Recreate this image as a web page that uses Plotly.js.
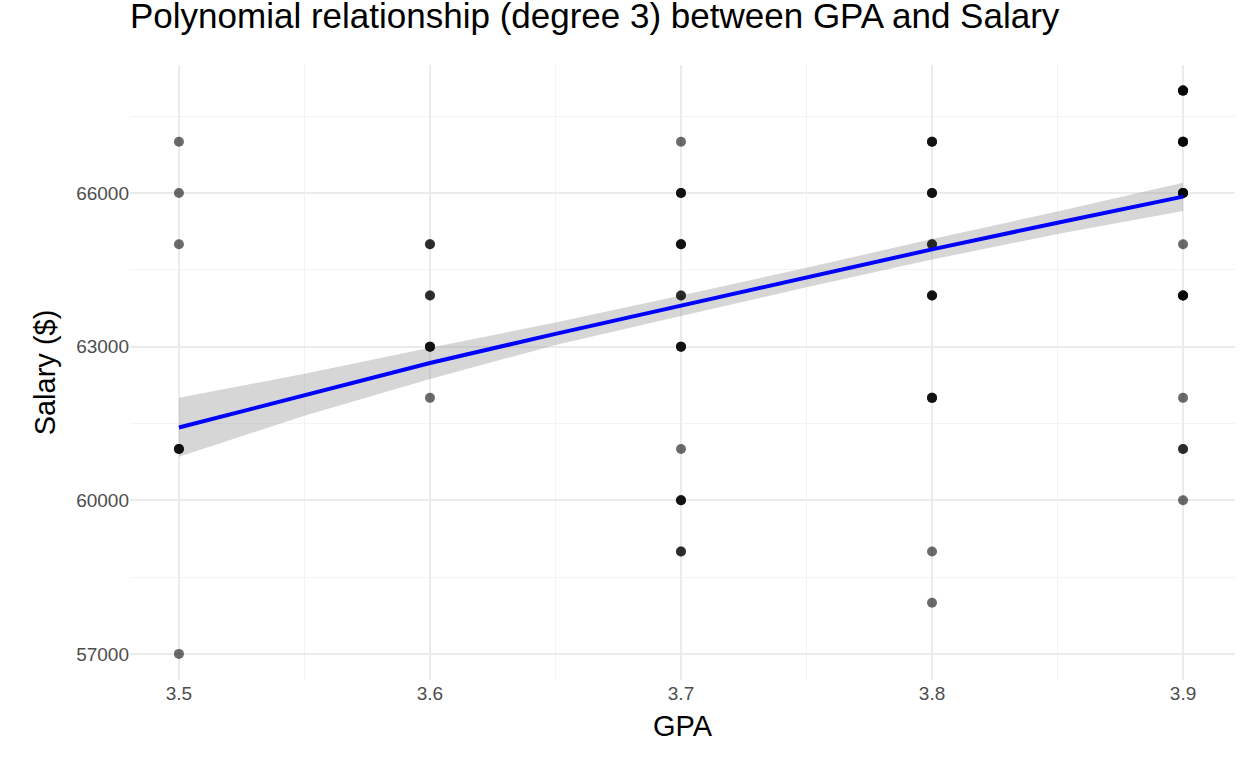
<!DOCTYPE html>
<html>
<head>
<meta charset="utf-8">
<script src="https://cdn.plot.ly/plotly-3.0.1.min.js"></script>
<style>body{margin:0;background:#fff}</style>
</head>
<body>
<div id="chart" style="width:1248px;height:768px"></div>
<script>
// observed points (repeats show overlapping, darker dots)
const gpa = [
  3.5, 3.5, 3.5, 3.5, 3.5, 3.5, 3.5,
  3.6, 3.6, 3.6, 3.6, 3.6, 3.6, 3.6, 3.6,
  3.7, 3.7, 3.7, 3.7, 3.7, 3.7, 3.7, 3.7, 3.7, 3.7, 3.7, 3.7, 3.7, 3.7, 3.7, 3.7, 3.7, 3.7,
  3.8, 3.8, 3.8, 3.8, 3.8, 3.8, 3.8, 3.8, 3.8, 3.8, 3.8, 3.8, 3.8, 3.8, 3.8, 3.8,
  3.9, 3.9, 3.9, 3.9, 3.9, 3.9, 3.9, 3.9, 3.9, 3.9, 3.9, 3.9, 3.9, 3.9, 3.9, 3.9, 3.9, 3.9, 3.9, 3.9, 3.9
];
const salary = [
  67000, 66000, 65000, 61000, 61000, 61000, 57000,
  65000, 65000, 64000, 64000, 63000, 63000, 63000, 62000,
  67000, 66000, 66000, 66000, 65000, 65000, 65000, 64000, 64000, 63000, 63000, 63000, 61000, 60000, 60000, 60000, 59000, 59000,
  67000, 67000, 67000, 66000, 66000, 66000, 65000, 65000, 64000, 64000, 64000, 62000, 62000, 62000, 59000, 58000,
  68000, 68000, 68000, 68000, 67000, 67000, 67000, 67000, 66000, 66000, 66000, 66000, 65000, 64000, 64000, 64000, 64000, 62000, 61000, 61000, 60000
];

// fitted curve and confidence band
const fitX = [3.5, 3.55, 3.6, 3.65, 3.7, 3.75, 3.8, 3.85, 3.9];
const fitY = [61420, 62060, 62680, 63250, 63800, 64350, 64900, 65420, 65930];
const fitUpper = [62000, 62470, 62980, 63470, 64000, 64540, 65100, 65640, 66200];
const fitLower = [60850, 61650, 62370, 63030, 63600, 64160, 64700, 65200, 65650];

const traces = [
  {x: fitX, y: fitLower, mode: 'lines', line: {width: 0}, hoverinfo: 'skip', showlegend: false},
  {x: fitX, y: fitUpper, mode: 'lines', line: {width: 0}, fill: 'tonexty',
   fillcolor: 'rgba(153,153,153,0.4)', hoverinfo: 'skip', showlegend: false},
  {x: gpa, y: salary, mode: 'markers', type: 'scatter',
   marker: {color: 'rgba(0,0,0,0.58)', size: 10}, showlegend: false},
  {x: fitX, y: fitY, mode: 'lines', line: {color: '#0000ff', width: 4}, showlegend: false}
];

const axisFont = {family: 'Liberation Sans, Arial', size: 19, color: '#4d4d4d'};

const layout = {
  width: 1248, height: 768,
  margin: {l: 130, r: 13, t: 65, b: 88},
  paper_bgcolor: '#fff', plot_bgcolor: '#fff',
  font: {family: 'Liberation Sans, Arial', color: '#000'},
  title: {text: 'Polynomial relationship (degree 3) between GPA and Salary',
          x: 0, xref: 'paper', xanchor: 'left', y: 0.995, yanchor: 'top',
          font: {size: 35, color: '#000'}},
  xaxis: {
    range: [3.4805, 3.9207], tickvals: [3.5, 3.6, 3.7, 3.8, 3.9],
    ticktext: ['3.5', '3.6', '3.7', '3.8', '3.9'],
    showgrid: true, gridcolor: '#ebebeb', gridwidth: 1.5, zeroline: false,
    minor: {tickvals: [3.55, 3.65, 3.75, 3.85], showgrid: true, gridcolor: '#f3f3f3', gridwidth: 1},
    tickfont: axisFont, ticks: '', ticklen: 4,
    title: {text: 'GPA', font: {size: 29, color: '#000'}, standoff: 12}
  },
  yaxis: {
    range: [56490, 68500], tickvals: [57000, 60000, 63000, 66000],
    ticktext: ['57000', '60000', '63000', '66000'],
    showgrid: true, gridcolor: '#ebebeb', gridwidth: 1.5, zeroline: false,
    minor: {tickvals: [58500, 61500, 64500, 67500], showgrid: true, gridcolor: '#f3f3f3', gridwidth: 1},
    tickfont: axisFont, ticks: '',
    title: {text: 'Salary ($)', font: {size: 29, color: '#000'}, standoff: 12}
  }
};

Plotly.newPlot('chart', traces, layout, {displayModeBar: false});
</script>
</body>
</html>
